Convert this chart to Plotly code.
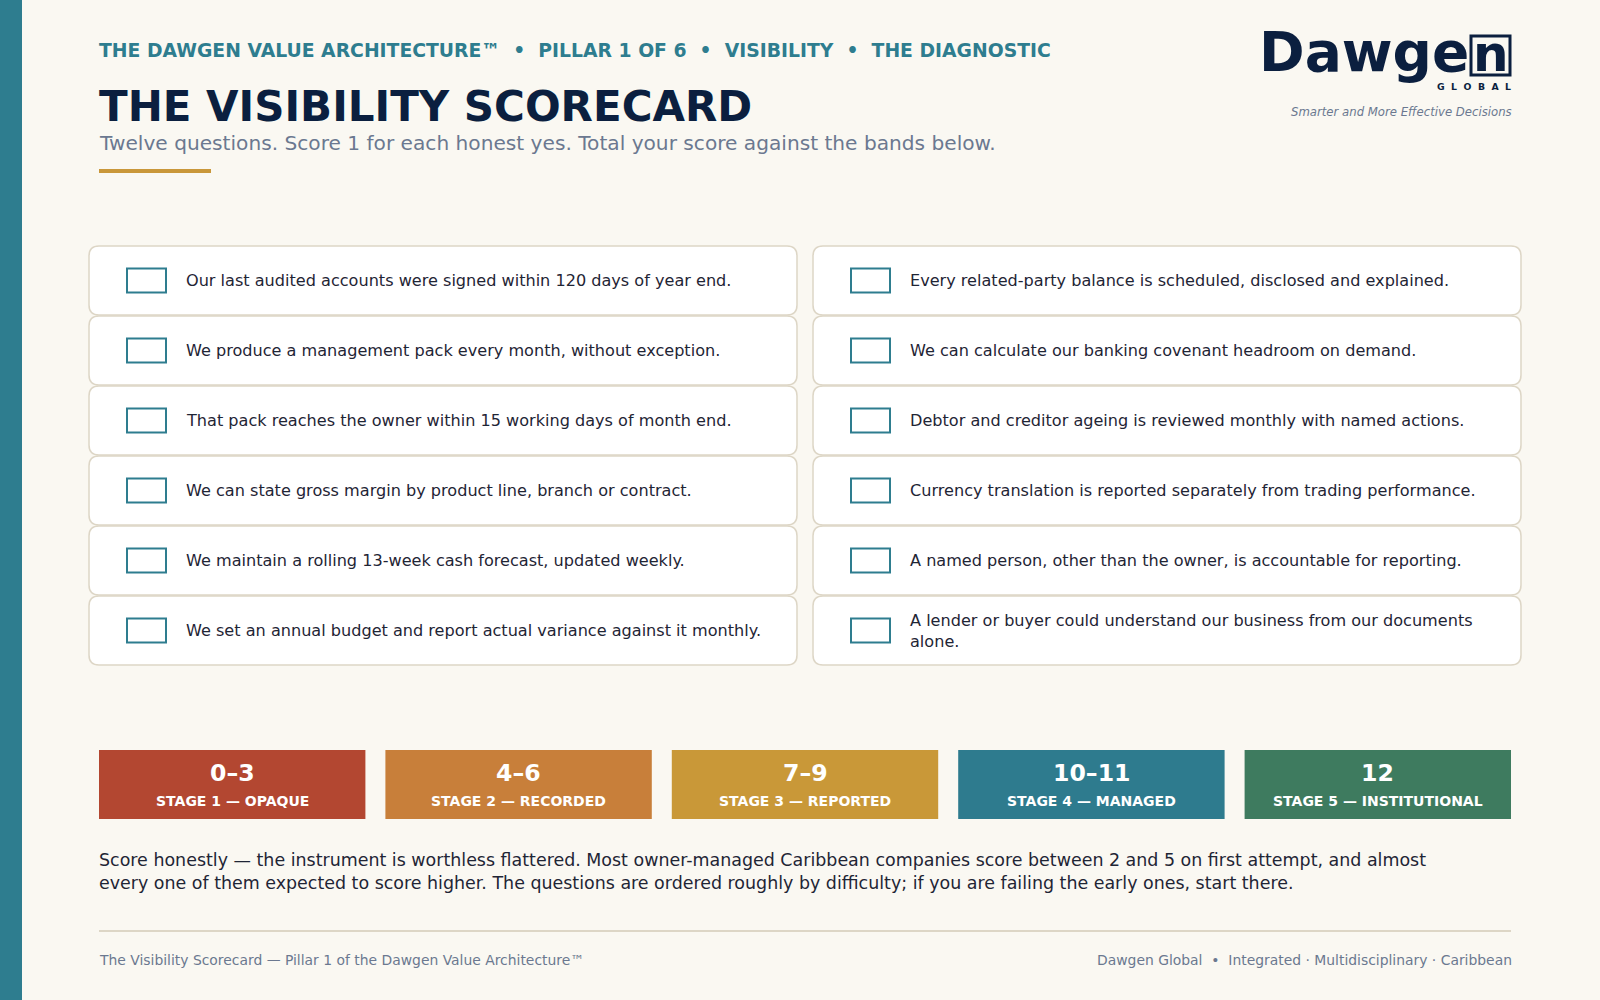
import plotly.graph_objects as go

# Data
questions = [
    "Our last audited accounts were signed within 120 days of year end.",
    "We produce a management pack every month, without exception.",
    "That pack reaches the owner within 15 working days of month end.",
    "We can state gross margin by product line, branch or contract.",
    "We maintain a rolling 13-week cash forecast, updated weekly.",
    "We set an annual budget and report actual variance against it monthly.",
    "Every related-party balance is scheduled, disclosed and explained.",
    "We can calculate our banking covenant headroom on demand.",
    "Debtor and creditor ageing is reviewed monthly with named actions.",
    "Currency translation is reported separately from trading performance.",
    "A named person, other than the owner, is accountable for reporting.",
    "A lender or buyer could understand our business from our documents<br>alone.",
]
band_ranges = ["0–3", "4–6", "7–9", "10–11", "12"]
band_labels = [
    "STAGE 1 — OPAQUE",
    "STAGE 2 — RECORDED",
    "STAGE 3 — REPORTED",
    "STAGE 4 — MANAGED",
    "STAGE 5 — INSTITUTIONAL",
]
band_colors = ["#B34731", "#C87F3A", "#C99838", "#2E7B8E", "#3E7B5F"]

kicker = "THE DAWGEN VALUE ARCHITECTURE™  •  PILLAR 1 OF 6  •  VISIBILITY  •  THE DIAGNOSTIC"
title = "THE VISIBILITY SCORECARD"
subtitle = "Twelve questions. Score 1 for each honest yes. Total your score against the bands below."
note = ("Score honestly — the instrument is worthless flattered. Most owner-managed Caribbean companies "
        "score between 2 and 5 on first attempt, and almost<br>every one of them expected to score higher. "
        "The questions are ordered roughly by difficulty; if you are failing the early ones, start there.")
footer_left = "The Visibility Scorecard — Pillar 1 of the Dawgen Value Architecture™"
footer_right = "Dawgen Global  •  Integrated · Multidisciplinary · Caribbean"
tagline = "Smarter and More Effective Decisions"
logo_word = "Dawge"
logo_box_letter = "n"
logo_sub = "\u00a0\u00a0".join("GLOBAL")

# Colours
BG = "#FAF8F2"
TEAL = "#2E7D8F"
NAVY = "#0B1F3F"
GREY = "#6B7890"
GOLD = "#C9973A"
RULE = "#DDD6C6"
INK = "#1F2535"
FONT = "DejaVu Sans"

fig = go.Figure()
fig.add_trace(go.Scatter(x=[0, 1600], y=[0, 1000], mode="markers",
                         marker=dict(opacity=0), hoverinfo="skip"))

shapes = []
ann = []


def text(x, y, s, size, color, bold=False, xanchor="left", yanchor="middle", italic=False, align="left"):
    ann.append(dict(x=x, y=y, xref="x", yref="y", text=s, showarrow=False,
                    xanchor=xanchor, yanchor=yanchor, align=align,
                    font=dict(family=FONT, size=size, color=color,
                              weight="bold" if bold else "normal",
                              style="italic" if italic else "normal")))


def rounded(x0, y0, x1, y1, r):
    return (f"M {x0+r},{y0} L {x1-r},{y0} Q {x1},{y0} {x1},{y0+r} "
            f"L {x1},{y1-r} Q {x1},{y1} {x1-r},{y1} L {x0+r},{y1} "
            f"Q {x0},{y1} {x0},{y1-r} L {x0},{y0+r} Q {x0},{y0} {x0+r},{y0} Z")


# left accent bar
shapes.append(dict(type="rect", xref="x", yref="y", x0=0, x1=22, y0=0, y1=1000,
                   fillcolor=TEAL, line_width=0))

# header (annotations carry ~2px of padding, hence x slightly under 99)
text(96.5, 50, kicker, 18.8, TEAL, bold=True)
text(96.5, 106, title, 42, NAVY, bold=True)
text(96.5, 143, subtitle, 20.15, GREY)
shapes.append(dict(type="rect", xref="x", yref="y", x0=99, x1=211, y0=169, y1=173,
                   fillcolor=GOLD, line_width=0))

# logo
text(1471, 52, logo_word, 55, NAVY, bold=True, xanchor="right")
shapes.append(dict(type="rect", xref="x", yref="y", x0=1471, x1=1510, y0=36, y1=75,
                   fillcolor=BG, line=dict(color=NAVY, width=3)))
text(1490.5, 54, logo_box_letter, 50, NAVY, bold=True, xanchor="center")
text(1513, 86, logo_sub, 9.3, NAVY, bold=True, xanchor="right")
text(1514, 112, tagline, 11.7, GREY, italic=True, xanchor="right")

# question cards
card_w, card_h, pitch = 708, 69, 70
for i, q in enumerate(questions):
    col, row = divmod(i, 6)
    cx0 = 89 + col * (card_w + 16)
    cy0 = 246 + row * pitch
    shapes.append(dict(type="path", xref="x", yref="y",
                       path=rounded(cx0, cy0, cx0 + card_w, cy0 + card_h, 10),
                       fillcolor="#FFFFFF", line=dict(color=RULE, width=1.5)))
    mid = cy0 + card_h / 2
    shapes.append(dict(type="rect", xref="x", yref="y", x0=cx0 + 38, x1=cx0 + 77,
                       y0=mid - 12, y1=mid + 12, fillcolor="#FFFFFF",
                       line=dict(color=TEAL, width=2)))
    text(cx0 + 95, mid, q, 16.1, INK)

# score bands
band_w, gap = 266.4, 20
for i, (rng, lab, colr) in enumerate(zip(band_ranges, band_labels, band_colors)):
    bx0 = 99 + i * (band_w + gap)
    shapes.append(dict(type="rect", xref="x", yref="y", x0=bx0, x1=bx0 + band_w,
                       y0=750, y1=819, fillcolor=colr, line_width=0))
    text(bx0 + band_w / 2, 773, rng, 23.6, "#FFFFFF", bold=True, xanchor="center")
    text(bx0 + band_w / 2, 801, lab, 14, "#FFFFFF", bold=True, xanchor="center")

# note
text(96.5, 871, note, 17.45, INK)

# footer
shapes.append(dict(type="line", xref="x", yref="y", x0=99, x1=1511, y0=931, y1=931,
                   line=dict(color=RULE, width=2)))
text(96.5, 960, footer_left, 13.9, GREY)
text(1514, 960, footer_right, 13.9, GREY, xanchor="right")

fig.update_layout(
    width=1600, height=1000,
    margin=dict(l=0, r=0, t=0, b=0),
    paper_bgcolor=BG, plot_bgcolor=BG,
    showlegend=False,
    shapes=shapes, annotations=ann,
    xaxis=dict(range=[0, 1600], visible=False, fixedrange=True),
    yaxis=dict(range=[1000, 0], visible=False, fixedrange=True),
)

fig.write_html("out.html", config={"displayModeBar": False},
               post_script="document.body.style.margin='0px';")
